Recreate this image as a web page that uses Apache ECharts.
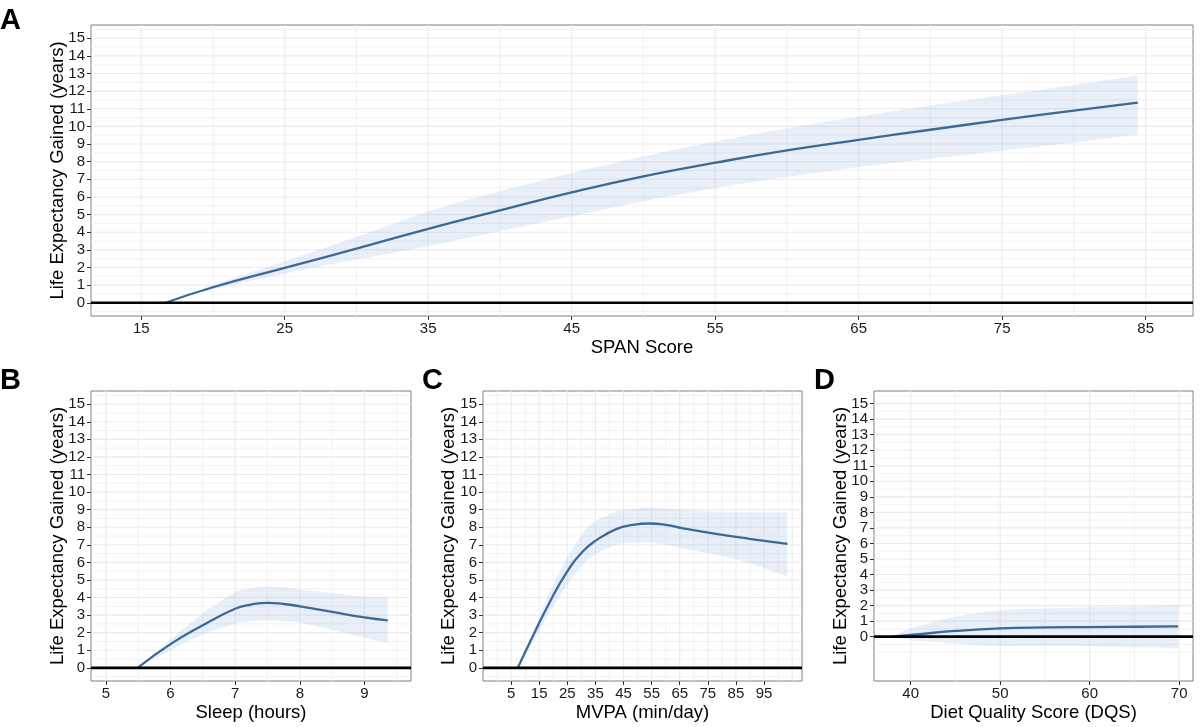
<!DOCTYPE html>
<html><head><meta charset="utf-8">
<script src="https://cdn.jsdelivr.net/npm/echarts@6/dist/echarts.min.js"></script>
<style>html,body{margin:0;padding:0;background:#fff}#c{width:1200px;height:727px}</style>
</head><body><div id="c"></div>
<script>
// ---- Data ----
const spanX   = [16.7, 20, 25, 30, 35, 40, 45, 50, 55, 60, 65, 70, 75, 80, 84.45];
const spanFit = [0, 0.88, 1.98, 3.07, 4.19, 5.24, 6.26, 7.17, 7.94, 8.64, 9.24, 9.81, 10.37, 10.9, 11.35];
const spanLo  = [0, 0.76, 1.66, 2.45, 3.2, 4.05, 4.90, 5.75, 6.51, 7.13, 7.7, 8.16, 8.62, 9.09, 9.52];
const spanHi  = [0, 1.0, 2.36, 3.73, 5.18, 6.32, 7.36, 8.30, 9.15, 9.90, 10.55, 11.18, 11.76, 12.35, 12.88];

const sleepX   = [5.49, 6, 6.5, 7, 7.25, 7.5, 7.75, 8, 8.5, 9, 9.36];
const sleepFit = [0, 1.35, 2.42, 3.36, 3.6, 3.7, 3.63, 3.5, 3.18, 2.87, 2.70];
const sleepLo  = [0, 1.0, 1.9, 2.5, 2.65, 2.7, 2.65, 2.55, 2.17, 1.73, 1.42];
const sleepHi  = [0, 1.6, 3.1, 4.3, 4.52, 4.63, 4.58, 4.45, 4.24, 4.06, 4.02];

const mvpaX   = [7.4, 12.7, 18.6, 24.6, 30.5, 35.2, 42.4, 48.3, 54.2, 60.1, 66.1, 77.9, 89.8, 103.3];
const mvpaFit = [0, 1.79, 3.69, 5.39, 6.62, 7.25, 7.89, 8.13, 8.21, 8.13, 7.94, 7.62, 7.34, 7.05];
const mvpaLo  = [0, 1.42, 3.12, 4.63, 5.86, 6.47, 7.0, 7.13, 7.13, 7.0, 6.81, 6.43, 5.96, 5.2];
const mvpaHi  = [0, 2.0, 4.26, 6.15, 7.66, 8.35, 8.89, 9.04, 9.12, 9.06, 8.98, 8.89, 8.85, 8.83];

const dqsX   = [37.9, 40, 45, 50, 55, 60, 65, 69.9];
const dqsFit = [0, 0.11, 0.37, 0.54, 0.6, 0.62, 0.64, 0.66];
const dqsLo  = [0, -0.21, -0.43, -0.6, -0.6, -0.62, -0.68, -0.75];
const dqsHi  = [0, 0.54, 1.29, 1.71, 1.82, 1.89, 1.93, 2.04];

const yTicks     = [0,1,2,3,4,5,6,7,8,9,10,11,12,13,14,15];
const spanTicks  = [15,25,35,45,55,65,75,85];
const sleepTicks = [5,6,7,8,9];
const mvpaTicks  = [5,15,25,35,45,55,65,75,85,95];
const dqsTicks   = [40,50,60,70];

const yTitle = 'Life Expectancy Gained (years)';

// ---- Styling / layout ----
const FONT = "'Liberation Sans', Arial, Helvetica, sans-serif";
const LINE_COLOR = '#3b6a97';
const RIBBON = 'rgba(150,180,220,0.21)';
const GRID_MAJOR = {stroke:'#ebebeb', lineWidth:1.1};
const GRID_MINOR = {stroke:'#efefef', lineWidth:0.8};

const panels = [
  {letter:'A', lx:0, ly:6, x:spanX, fit:spanFit, lo:spanLo, hi:spanHi, ticks:spanTicks, xName:'SPAN Score', yGap:24,
   grid:{left:91, top:25, width:1102, height:291}, xMin:11.5, xMax:88.3, yMin:-0.75, yMax:15.75},
  {letter:'B', lx:0, ly:366, x:sleepX, fit:sleepFit, lo:sleepLo, hi:sleepHi, ticks:sleepTicks, xName:'Sleep (hours)', yGap:24,
   grid:{left:91, top:391, width:320, height:290}, xMin:4.77, xMax:9.72, yMin:-0.75, yMax:15.75},
  {letter:'C', lx:422, ly:366, x:mvpaX, fit:mvpaFit, lo:mvpaLo, hi:mvpaHi, ticks:mvpaTicks, xName:'MVPA (min/day)', yGap:25,
   grid:{left:483, top:391, width:319, height:290}, xMin:-5, xMax:108.5, yMin:-0.75, yMax:15.75},
  {letter:'D', lx:814, ly:366, x:dqsX, fit:dqsFit, lo:dqsLo, hi:dqsHi, ticks:dqsTicks, xName:'Diet Quality Score (DQS)', yGap:24,
   grid:{left:874, top:391, width:319, height:290}, xMin:35.9, xMax:71.55, yMin:-2.85, yMax:15.81}
];

function bezierThrough(pts) {
  let d = '';
  for (let i = 0; i < pts.length - 1; i++) {
    const p0 = pts[Math.max(i - 1, 0)], p1 = pts[i], p2 = pts[i + 1], p3 = pts[Math.min(i + 2, pts.length - 1)];
    const c1 = [p1[0] + (p2[0] - p0[0]) / 6, p1[1] + (p2[1] - p0[1]) / 6];
    const c2 = [p2[0] - (p3[0] - p1[0]) / 6, p2[1] - (p3[1] - p1[1]) / 6];
    d += ' C' + c1[0] + ',' + c1[1] + ' ' + c2[0] + ',' + c2[1] + ' ' + p2[0] + ',' + p2[1];
  }
  return d;
}

const option = {
  animation:false,
  backgroundColor:'#fff',
  title:[], grid:[], xAxis:[], yAxis:[], series:[]
};

panels.forEach((p, i) => {
  option.title.push({text:p.letter, left:p.lx, top:p.ly, padding:0,
    textStyle:{fontSize:29, fontWeight:'bold', color:'#000', fontFamily:FONT}});
  option.grid.push(Object.assign({show:true, borderColor:'#808080', borderWidth:1, backgroundColor:'transparent', containLabel:false}, p.grid));
  const tickStyle = {show:true, length:4, lineStyle:{color:'#333', width:1}};
  option.xAxis.push({type:'value', gridIndex:i, min:p.xMin, max:p.xMax,
    name:p.xName, nameLocation:'middle', nameGap:22, nameMoveOverlap:false,
    nameTextStyle:{fontSize:18.5, color:'#000', fontFamily:FONT},
    axisLine:{show:false, onZero:false}, splitLine:{show:false},
    axisTick:Object.assign({customValues:p.ticks}, tickStyle),
    axisLabel:{customValues:p.ticks, margin:5, fontSize:15, color:'#1a1a1a', fontFamily:FONT}});
  option.yAxis.push({type:'value', gridIndex:i, min:p.yMin, max:p.yMax,
    name:yTitle, nameLocation:'middle', nameGap:p.yGap, nameRotate:90, nameMoveOverlap:false,
    nameTextStyle:{fontSize:18.5, color:'#000', fontFamily:FONT},
    axisLine:{show:false, onZero:false}, splitLine:{show:false},
    axisTick:Object.assign({customValues:yTicks}, tickStyle),
    axisLabel:{customValues:yTicks, margin:6, fontSize:15, color:'#1a1a1a', fontFamily:FONT}});

  // gridline positions: major at ticks, minor halfway between (plus one step beyond ends)
  const vx = [], vy = [];
  const t = p.ticks, step = t[1] - t[0];
  t.forEach(v => vx.push([v, true]));
  for (let k = -1; k < t.length; k++) {
    const v = t[0] + (k + 0.5) * step;
    if (v > p.xMin && v < p.xMax) vx.push([v, false]);
  }
  if (p.letter === 'C') vx.push([105, true]);
  yTicks.forEach(v => vy.push([v, true]));
  for (let v = -1; v <= 15; v += 1) {
    const m = v + 0.5;
    if (m > p.yMin && m < p.yMax) vy.push([m, false]);
    if (v > p.yMin && v < 0) vy.push([v, false]);
  }
  option.series.push({type:'custom', xAxisIndex:i, yAxisIndex:i, silent:true, z:1,
    data:[[p.xMin, p.yMin]],
    renderItem:(params, api) => {
      const ch = [];
      vx.forEach(([v, maj]) => {
        const a = api.coord([v, p.yMin]), b = api.coord([v, p.yMax]);
        ch.push({type:'line', shape:{x1:a[0], y1:a[1], x2:b[0], y2:b[1]}, style:maj ? GRID_MAJOR : GRID_MINOR});
      });
      vy.forEach(([v, maj]) => {
        const a = api.coord([p.xMin, v]), b = api.coord([p.xMax, v]);
        ch.push({type:'line', shape:{x1:a[0], y1:a[1], x2:b[0], y2:b[1]}, style:maj ? GRID_MAJOR : GRID_MINOR});
      });
      return {type:'group', children:ch};
    }});

  // confidence ribbon (polygon through upper then lower bound)
  option.series.push({type:'custom', xAxisIndex:i, yAxisIndex:i, silent:true, z:2, clip:true,
    data:p.x.map((v, k) => [v, p.lo[k], p.hi[k]]),
    encode:{x:0, y:[1, 2]},
    renderItem:(params, api) => {
      if (params.dataIndex !== 0) return null;
      const up = p.x.map((v, k) => api.coord([v, p.hi[k]]));
      const lo = p.x.map((v, k) => api.coord([v, p.lo[k]])).reverse();
      const d = 'M' + up[0][0] + ',' + up[0][1] + bezierThrough(up) +
                ' L' + lo[0][0] + ',' + lo[0][1] + bezierThrough(lo) + ' Z';
      return {type:'path', shape:{pathData:d}, style:{fill:RIBBON, stroke:null}};
    }});

  const fitData = p.x.map((v, k) => [v, p.fit[k]]);
  // fitted curve
  option.series.push({type:'line', xAxisIndex:i, yAxisIndex:i, data:fitData, symbol:'none', smooth:0.5,
    lineStyle:{color:LINE_COLOR, width:2.3}, z:3, silent:true});
  // zero reference line
  option.series.push({type:'custom', xAxisIndex:i, yAxisIndex:i, silent:true, z:4,
    data:[[p.xMin, 0]],
    renderItem:(params, api) => {
      const a = api.coord([p.xMin, 0]), b = api.coord([p.xMax, 0]);
      return {type:'line', shape:{x1:a[0], y1:a[1], x2:b[0], y2:b[1]}, style:{stroke:'#000', lineWidth:2.7}};
    }});
});

const chart = echarts.init(document.getElementById('c'), null, {renderer:'canvas'});
chart.setOption(option);
</script>
</body></html>
